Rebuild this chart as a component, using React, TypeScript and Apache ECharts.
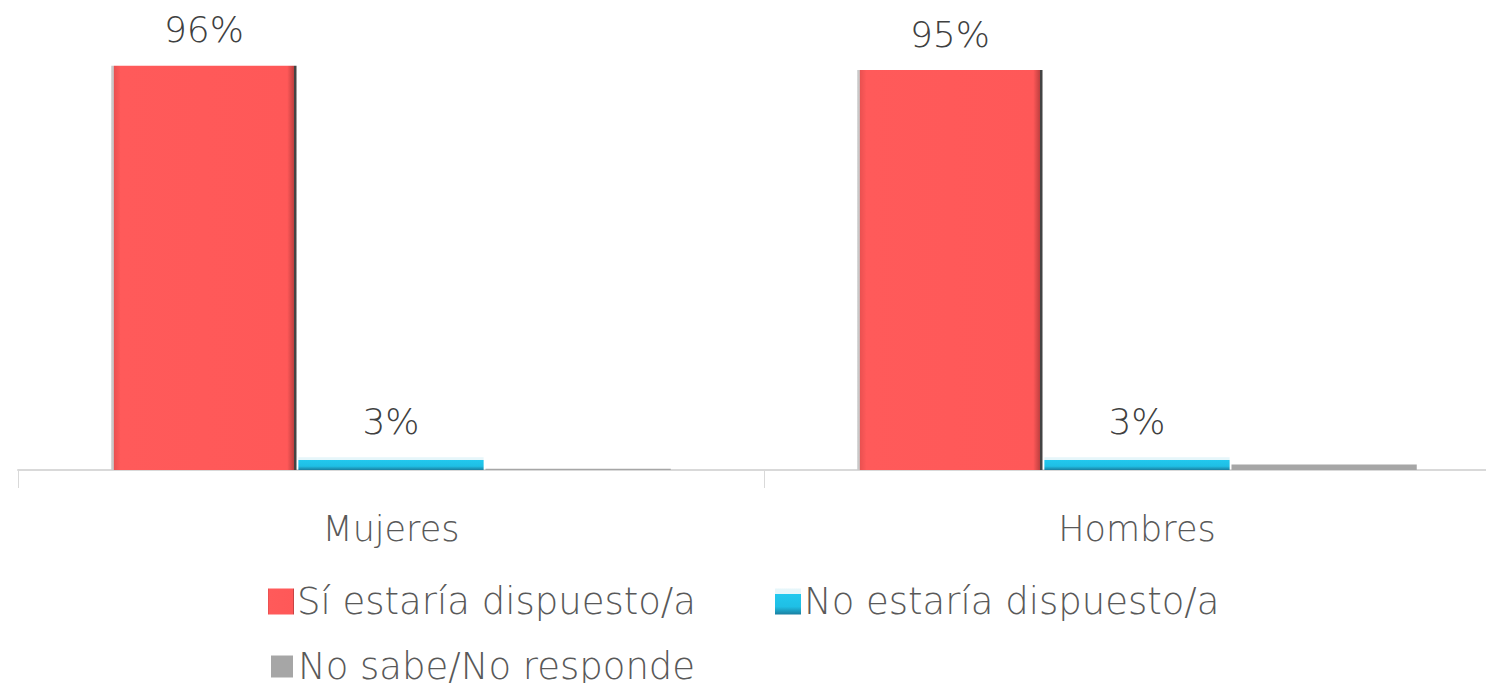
import React, { useEffect, useRef } from "react";
import * as echarts from "echarts";

const categories = ["Mujeres", "Hombres"];
const seriesNames = ["Sí estaría dispuesto/a", "No estaría dispuesto/a", "No sabe/No responde"];
const siValues = [96, 95];
const noValues = [3, 3];
const nsnrValues = [0.3, 1.3];

const FONT = "'DejaVu Sans', sans-serif";
const TXT = "#595959";

export default function App() {
  const ref = useRef<HTMLDivElement>(null);
  useEffect(() => {
    if (!ref.current) return;
    const chart = echarts.init(ref.current, null, { renderer: "svg" });
    const red = new echarts.graphic.LinearGradient(0, 0, 1, 0, [
      { offset: 0, color: "#c9c9c9" },
      { offset: 0.012, color: "#c9c9c9" },
      { offset: 0.013, color: "#e85050" },
      { offset: 0.05, color: "#ff5a5a" },
      { offset: 0.95, color: "#ff5858" },
      { offset: 0.985, color: "#c04040" },
      { offset: 0.986, color: "#444444" },
      { offset: 1, color: "#444444" },
    ]);
    const blue = new echarts.graphic.LinearGradient(0, 0, 0, 1, [
      { offset: 0, color: "#e6f6fa" },
      { offset: 0.2, color: "#e6f6fa" },
      { offset: 0.21, color: "#22c8ee" },
      { offset: 0.7, color: "#1fbfe5" },
      { offset: 1, color: "#1a7fa0" },
    ]);
    const labelStyle = {
      show: true,
      position: "top" as const,
      distance: 18,
      fontSize: 36,
      fontFamily: FONT,
      fontWeight: 200,
      color: "#404040",
      formatter: "{c}%",
    };
    chart.setOption({
      animation: false,
      grid: { left: 18, width: 1492, top: 49, bottom: 221, containLabel: false, outerBoundsMode: "none" },
      xAxis: {
        type: "category",
        data: categories,
        axisLine: { lineStyle: { color: "#d9d9d9", width: 2 } },
        axisTick: { show: true, length: 18, lineStyle: { color: "#d9d9d9", width: 1 } },
        axisLabel: { fontSize: 35, fontFamily: FONT, fontWeight: 200, color: TXT, margin: 41 },
      },
      yAxis: { type: "value", min: 0, max: 100, show: false, splitLine: { show: false } },
      legend: [
        {
          data: [seriesNames[0], seriesNames[1]],
          left: 263,
          top: 578,
          itemWidth: 26,
          itemHeight: 26,
          itemGap: 79,
          icon: "rect",
          textStyle: { fontSize: 37, fontFamily: FONT, fontWeight: 200, color: TXT, padding: [0, 0, 0, -2] },
        },
        {
          data: [seriesNames[2]],
          left: 266,
          top: 643,
          itemWidth: 22,
          itemHeight: 22,
          icon: "rect",
          textStyle: { fontSize: 37, fontFamily: FONT, fontWeight: 200, color: TXT },
        },
      ],
      series: [
        {
          name: seriesNames[0],
          type: "bar",
          data: siValues,
          barGap: "1%",
          barCategoryGap: "25%",
          itemStyle: { color: red },
          label: labelStyle,
        },
        {
          name: seriesNames[1],
          type: "bar",
          data: noValues,
          itemStyle: { color: blue },
          label: labelStyle,
        },
        {
          name: seriesNames[2],
          type: "bar",
          data: nsnrValues,
          itemStyle: { color: "#a6a6a6" },
          label: { show: false },
        },
      ],
    });
    return () => chart.dispose();
  }, []);
  return <div ref={ref} style={{ width: 1494, height: 691, margin: -8 }} />;
}
